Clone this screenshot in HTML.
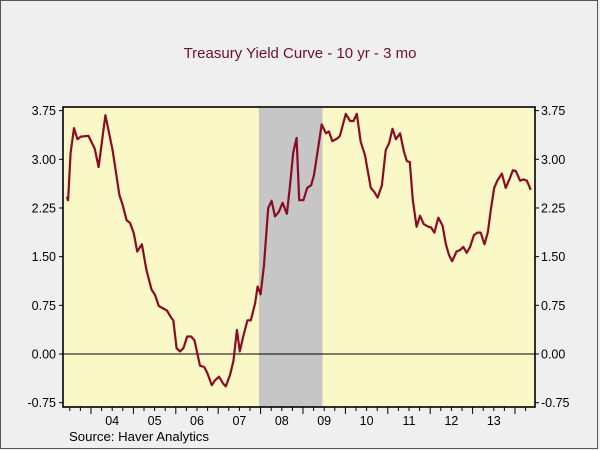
<!DOCTYPE html>
<html><head><meta charset="utf-8"><style>
html,body{margin:0;padding:0;background:#efefef;}
svg{display:block;font-family:"Liberation Sans",sans-serif;}
</style></head><body>
<svg id="chart" width="600" height="450" viewBox="0 0 600 450">
<rect x="0.5" y="0.5" width="597" height="448" fill="#efefef" stroke="#555"/>
<text x="300" y="58" text-anchor="middle" font-size="15" fill="#6e1028">Treasury Yield Curve - 10 yr - 3 mo</text>
<g id="plot"></g>
<text x="69" y="441" font-size="13.2" fill="#000">Source: Haver Analytics</text>
</svg>
<script>
const dates=[2003.43,2003.46,2003.52,2003.60,2003.68,2003.76,2003.94,2004.09,2004.18,2004.34,2004.51,2004.67,2004.75,2004.84,2004.92,2005.01,2005.09,2005.20,2005.31,2005.43,2005.51,2005.60,2005.79,2005.90,2005.94,2006.02,2006.10,2006.18,2006.27,2006.36,2006.44,2006.57,2006.67,2006.74,2006.85,2006.92,2007.02,2007.11,2007.18,2007.28,2007.36,2007.44,2007.51,2007.59,2007.69,2007.77,2007.87,2007.93,2008.00,2008.08,2008.18,2008.26,2008.34,2008.43,2008.52,2008.62,2008.69,2008.77,2008.85,2008.91,2008.93,2009.01,2009.10,2009.19,2009.26,2009.34,2009.44,2009.54,2009.61,2009.69,2009.81,2009.87,2010.01,2010.11,2010.19,2010.27,2010.36,2010.46,2010.60,2010.68,2010.76,2010.86,2010.95,2011.03,2011.11,2011.19,2011.29,2011.38,2011.45,2011.52,2011.59,2011.68,2011.76,2011.85,2011.96,2012.02,2012.10,2012.19,2012.29,2012.37,2012.44,2012.52,2012.62,2012.70,2012.78,2012.86,2012.94,2013.03,2013.11,2013.19,2013.28,2013.36,2013.43,2013.51,2013.59,2013.69,2013.78,2013.86,2013.95,2014.02,2014.12,2014.20,2014.28,2014.37];
const values=[2.42,2.37,3.10,3.48,3.31,3.35,3.36,3.16,2.88,3.68,3.14,2.45,2.29,2.06,2.02,1.86,1.58,1.69,1.29,0.99,0.91,0.74,0.67,0.55,0.52,0.09,0.04,0.09,0.27,0.27,0.21,-0.18,-0.20,-0.29,-0.48,-0.41,-0.35,-0.45,-0.50,-0.32,-0.10,0.37,0.04,0.27,0.52,0.52,0.78,1.04,0.92,1.37,2.25,2.36,2.12,2.19,2.33,2.16,2.58,3.10,3.33,2.37,2.37,2.37,2.56,2.60,2.76,3.10,3.54,3.40,3.43,3.28,3.32,3.36,3.70,3.59,3.59,3.70,3.27,3.07,2.56,2.50,2.41,2.60,3.14,3.25,3.47,3.31,3.40,3.12,2.97,2.96,2.37,1.96,2.13,2.00,1.96,1.95,1.87,2.10,1.98,1.69,1.53,1.43,1.58,1.60,1.65,1.56,1.65,1.83,1.87,1.87,1.69,1.88,2.22,2.56,2.68,2.78,2.56,2.68,2.83,2.82,2.67,2.69,2.67,2.53];
const yTicks=[3.75,3.00,2.25,1.50,0.75,0.00,-0.75];
const yTickLabels=["3.75","3.00","2.25","1.50","0.75","0.00","-0.75"];
const years=[2004,2005,2006,2007,2008,2009,2010,2011,2012,2013];
const yearLabels=["04","05","06","07","08","09","10","11","12","13"];
const recession=[2007.96,2009.46];

const NS="http://www.w3.org/2000/svg";
const L=63,R=535,T=107,B=407;
const x=d=>91+(d-2004)*42.4;
const y=v=>354-v*64.9;
const g=document.getElementById('plot');
function mk(tag,attrs,parent){const e=document.createElementNS(NS,tag);for(const k in attrs)e.setAttribute(k,attrs[k]);(parent||g).appendChild(e);return e;}

const bg=mk('rect',{x:L,y:T,width:R-L,height:B-T,fill:'#fbf8c8'});


const rec=mk('rect',{x:x(recession[0]),y:T+1,width:x(recession[1])-x(recession[0]),height:B-T-1,fill:'#c6c6c6'});


const zl=mk('line',{x1:L,x2:R,y1:y(0),y2:y(0),stroke:'#000','stroke-width':1});



let dstr='';
for(let i=0;i<dates.length;i++){dstr+=(i?'L':'M')+x(dates[i]).toFixed(1)+','+y(values[i]).toFixed(1);}
const line=mk('path',{d:dstr,fill:'none',stroke:'#8b0b22','stroke-width':2.2,'stroke-linejoin':'round'});



const frame=mk('rect',{x:L,y:T,width:R-L,height:B-T,fill:'none',stroke:'#000','stroke-width':1.6});



yTicks.forEach((v,i)=>{
  const yy=y(v);
  mk('line',{x1:L-4,x2:L,y1:yy,y2:yy,stroke:'#000'});
  mk('line',{x1:R,x2:R+4,y1:yy,y2:yy,stroke:'#000'});
  const t1=mk('text',{x:L-7,y:yy+4.5,'text-anchor':'end','font-size':12.5,fill:'#000'});
  t1.textContent=yTickLabels[i];
  
  
  const t2=mk('text',{x:R+6,y:yy+4.5,'text-anchor':'start','font-size':12.5,fill:'#000'});
  t2.textContent=yTickLabels[i];
  
  
});

for(let q=2003.5;q<2014.5;q+=0.25){
  const xx=x(q); if(xx<L+1||xx>R-1) continue;
  const major=Math.abs(q-Math.round(q))<0.01;
  mk('line',{x1:xx,x2:xx,y1:B,y2:B+(major?7:4),stroke:'#000'});
}
years.forEach((yr,i)=>{
  const t=mk('text',{x:x(yr+0.5),y:B+18,'text-anchor':'middle','font-size':12.5,fill:'#000'});
  t.textContent=yearLabels[i];
  
  
});
</script>
</body></html>
